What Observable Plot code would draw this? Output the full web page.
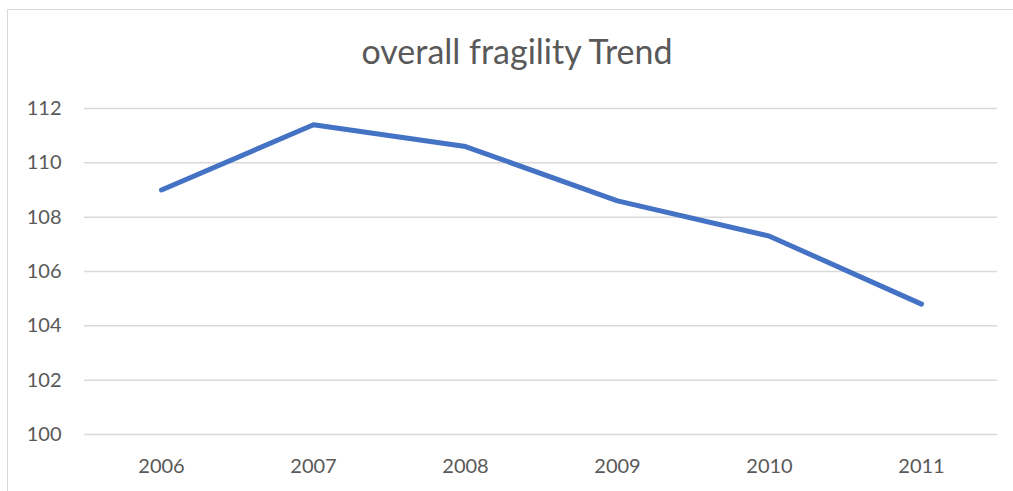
<!DOCTYPE html>
<html>
<head>
<meta charset="utf-8">
<script src="https://cdn.jsdelivr.net/npm/d3@7"></script>
<script src="https://cdn.jsdelivr.net/npm/@observablehq/plot@0.6"></script>
<style>
  html, body { margin: 0; padding: 0; background: #fff; overflow: hidden; }
  #wrap { position: relative; width: 1013px; height: 491px; overflow: hidden; font-family: Lato, "Open Sans", sans-serif; }
  #frame { position: absolute; left: 7px; top: 9px; width: 1100px; height: 600px; border: 1.5px solid #d9d9d9; box-sizing: border-box; }
  #title { position: absolute; left: 0; width: 1034px; top: 34px; text-align: center; font-size: 34px; line-height: 1; color: #595959; }
  #chart { position: absolute; left: 0; top: 0; }
</style>
</head>
<body>
<div id="wrap">
  <div id="frame"></div>
  <div id="title">overall fragility Trend</div>
  <div id="chart"></div>
</div>
<script>
// Overall fragility index by year
const years = ["2006", "2007", "2008", "2009", "2010", "2011"];
const fragility = [109.0, 111.4, 110.6, 108.6, 107.3, 104.8];
const yTicks = [100, 102, 104, 106, 108, 110, 112];

const data = years.map((year, i) => ({year, value: fragility[i]}));

const chart = Plot.plot({
  width: 1013,
  height: 491,
  marginLeft: 84,
  marginRight: 16,
  marginTop: 108,
  marginBottom: 57,
  style: {fontFamily: "Lato, 'Open Sans', sans-serif", fontSize: "20px", color: "#595959", background: "transparent"},
  x: {type: "point", domain: years, padding: 0.5, label: null},
  y: {domain: [100, 112], ticks: yTicks, label: null},
  marks: [
    Plot.gridY(yTicks, {stroke: "#d9d9d9", strokeOpacity: 1, strokeWidth: 1.5}),
    Plot.axisY(yTicks, {tickSize: 0, tickPadding: 23, fill: "#595959", fontSize: 20}),
    Plot.axisX(years, {tickSize: 0, tickPadding: 24, fill: "#595959", fontSize: 20}),
    Plot.line(data, {x: "year", y: "value", stroke: "#4472c4", strokeWidth: 5, strokeLinecap: "round", strokeLinejoin: "round"})
  ]
});
document.getElementById("chart").appendChild(chart);
</script>
</body>
</html>
